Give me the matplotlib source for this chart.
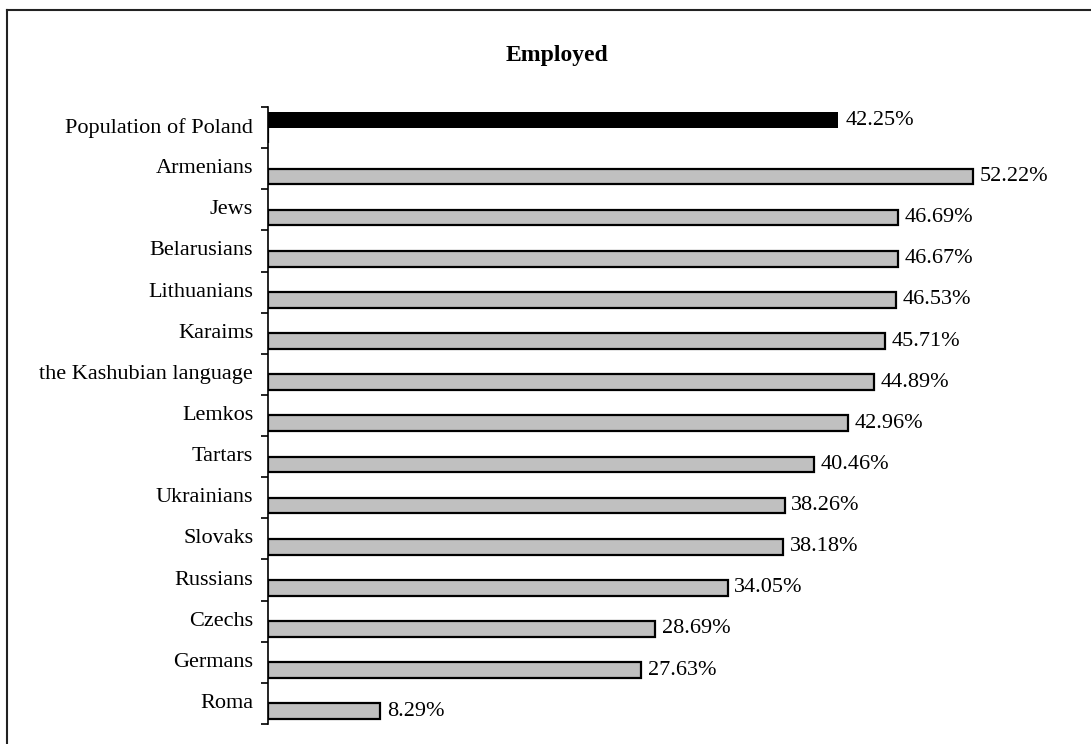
import matplotlib.pyplot as plt
import numpy as np
from matplotlib.lines import Line2D

categories = ["Population of Poland", "Armenians", "Jews", "Belarusians", "Lithuanians",
              "Karaims", "the Kashubian language", "Lemkos", "Tartars", "Ukrainians",
              "Slovaks", "Russians", "Czechs", "Germans", "Roma"]
# first series: whole population (black), second: minorities (grey)
poland = [42.25, 0, 0, 0, 0, 0, 0, 0, 0, 0, 0, 0, 0, 0, 0]
minorities = [0, 52.22, 46.69, 46.67, 46.53, 45.71, 44.89, 42.96, 40.46, 38.26,
              38.18, 34.05, 28.69, 27.63, 8.29]

plt.rcParams['font.family'] = ['Liberation Serif', 'DejaVu Serif']

fig = plt.figure(figsize=(10.91, 7.44), dpi=100)
ax = fig.add_axes([268 / 1091, 20 / 744, (1078 - 268) / 1091, (724 - 107) / 744])

y = np.arange(len(categories))
h = 0.38
ax.barh(y - 0.18, poland, height=h, color='black', edgecolor='black', linewidth=0)
ax.barh(y + 0.19, minorities, height=h, color='#c0c0c0', edgecolor='black', linewidth=1.6)

for i in range(len(categories)):
    if poland[i] > 0:
        ax.text(poland[i] + 0.5, y[i] - 0.18, f"{poland[i]:.2f}%", va='center', ha='left', fontsize=16)
    if minorities[i] > 0:
        ax.text(minorities[i] + 0.5, y[i] + 0.19, f"{minorities[i]:.2f}%", va='center', ha='left', fontsize=16)

ax.set_xlim(0, 60)
ax.set_ylim(len(categories) - 0.5, -0.5)

# category labels centred in slots, ticks on the slot boundaries
ax.set_yticks(np.arange(len(categories) + 1) - 0.5)
ax.set_yticklabels([])
ax.tick_params(axis='y', direction='out', length=5, width=1.2, color='black')
for i, c in enumerate(categories):
    ax.text(-1.1, y[i], c, ha='right', va='center', fontsize=16)

ax.set_xticks([])
for s in ['top', 'right', 'bottom']:
    ax.spines[s].set_visible(False)
ax.spines['left'].set_linewidth(1.2)

fig.text(557 / 1091, 1 - 55 / 744, "Employed", ha='center', va='center', fontsize=17, fontweight='bold')

# chart border (only left and top visible in the crop)
fig.add_artist(Line2D([7 / 1091, 7 / 1091], [0, 1 - 10 / 744], color='#222222', linewidth=1.5))
fig.add_artist(Line2D([7 / 1091, 1], [1 - 10 / 744, 1 - 10 / 744], color='#222222', linewidth=1.5))

fig.savefig('out.png', dpi=100)
